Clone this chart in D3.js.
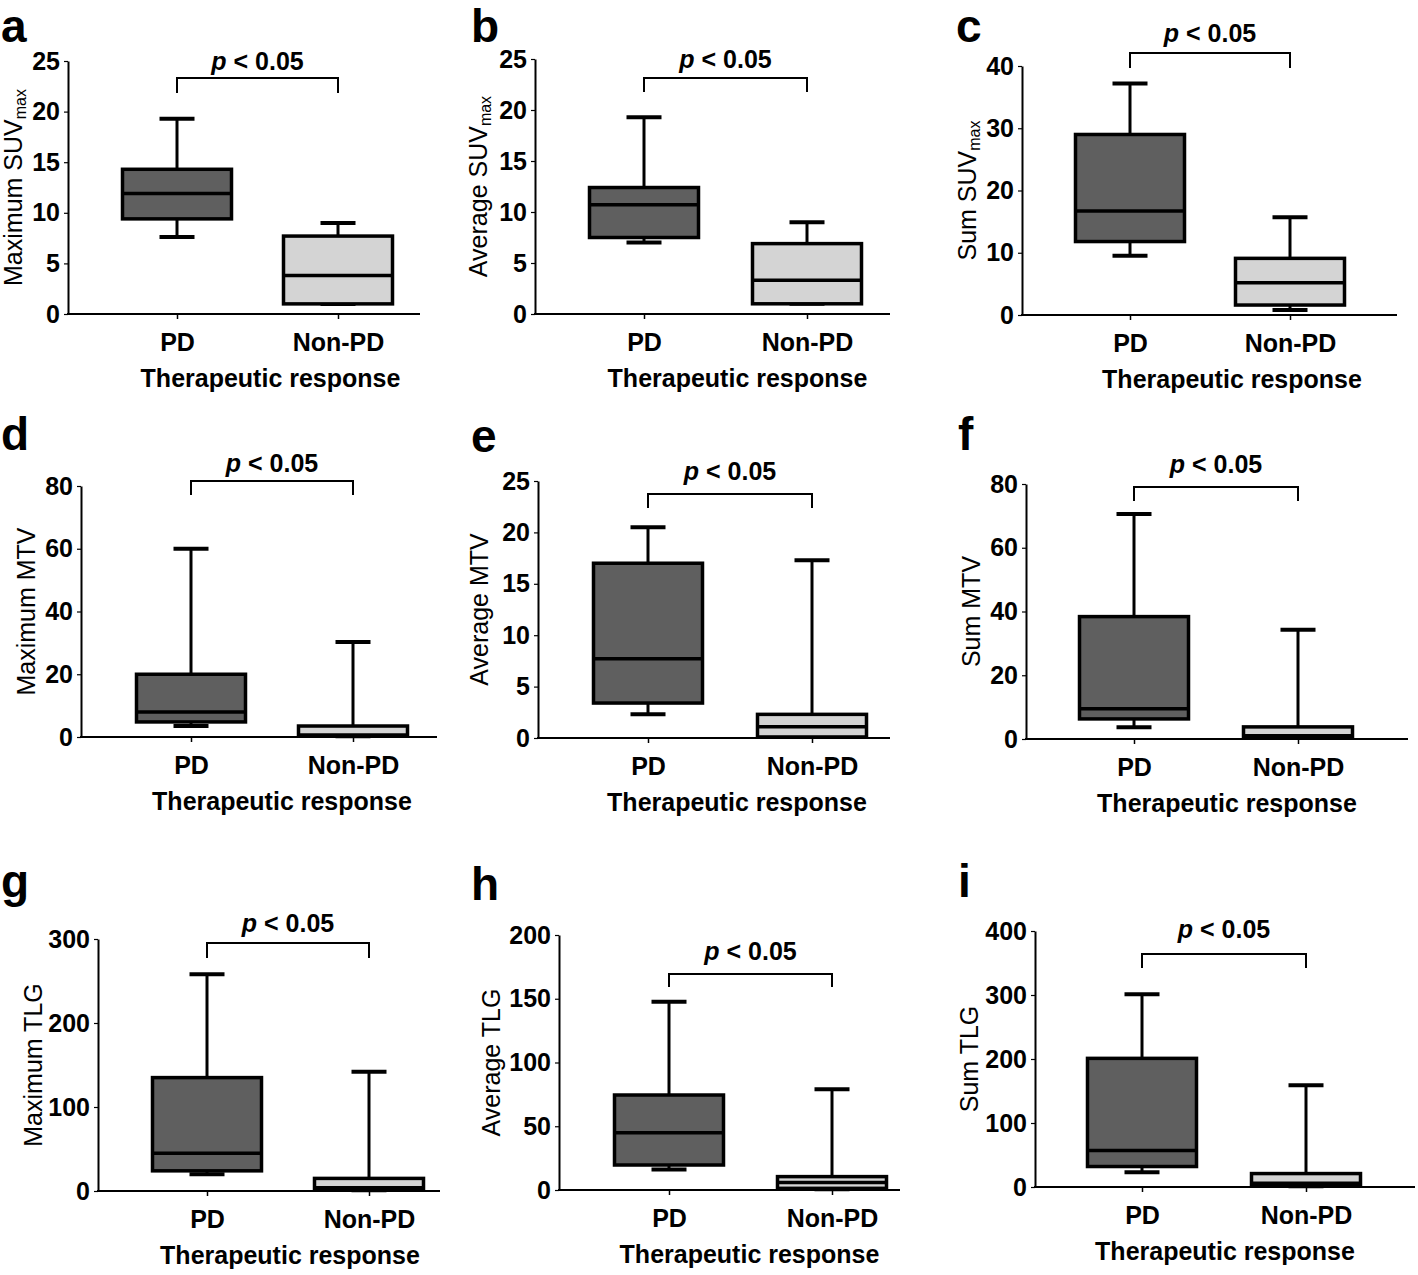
<!DOCTYPE html>
<html>
<head>
<meta charset="utf-8">
<script src="https://cdn.jsdelivr.net/npm/d3@7"></script>
<style>
  html, body { margin: 0; padding: 0; background: #ffffff; }
  svg { display: block; font-family: Arial, "Liberation Sans", Helvetica, sans-serif; }
</style>
</head>
<body>
<svg id="chart" width="1418" height="1275"></svg>
<script>
// ---------------- data ----------------
const panelLetters = ["a", "b", "c", "d", "e", "f", "g", "h", "i"];
const yLabelMain = ["Maximum SUV", "Average SUV", "Sum SUV",
                    "Maximum MTV", "Average MTV", "Sum MTV",
                    "Maximum TLG", "Average TLG", "Sum TLG"];
const yLabelSub = ["max", "max", "max", "", "", "", "", "", ""];
const yTicks = [
  [0, 5, 10, 15, 20, 25],
  [0, 5, 10, 15, 20, 25],
  [0, 10, 20, 30, 40],
  [0, 20, 40, 60, 80],
  [0, 5, 10, 15, 20, 25],
  [0, 20, 40, 60, 80],
  [0, 100, 200, 300],
  [0, 50, 100, 150, 200],
  [0, 100, 200, 300, 400]
];
const categories = ["PD", "Non-PD"];
// [min, Q1, median, Q3, max]
const pdStats = [
  [7.6, 9.4, 11.9, 14.3, 19.3],
  [7.0, 7.5, 10.7, 12.4, 19.3],
  [9.5, 11.8, 16.7, 29.0, 37.2],
  [3.5, 4.8, 8.0, 20.0, 60.0],
  [2.3, 3.4, 7.7, 17.0, 20.5],
  [3.7, 6.3, 9.5, 38.4, 70.6],
  [20, 24, 45, 135, 258],
  [16, 19.6, 45, 74.5, 147.7],
  [23, 32, 57, 201, 301]
];
const nonPdStats = [
  [1.0, 1.0, 3.8, 7.7, 9.0],
  [1.0, 1.0, 3.3, 6.9, 9.0],
  [0.8, 1.6, 5.2, 9.1, 15.7],
  [0.2, 0.3, 0.6, 3.5, 30.3],
  [0.1, 0.1, 1.1, 2.3, 17.3],
  [0.3, 0.5, 1.0, 3.8, 34.3],
  [1, 2, 4, 15, 142],
  [0.5, 1.3, 5.8, 10.5, 79],
  [1, 3, 6, 21, 159]
];
const pText = "< 0.05";
const xTitle = "Therapeutic response";

// ---------------- layout (frame geometry) ----------------
const layout = [
  {ax: 68,   top: 61,  bot: 314,  right: 420,  c0: 177,  c1: 338,  br: 78,  brT: 93,  pY: 70,  lx: 1,   ly: 42,  ylx: 22,  tdx: 13},
  {ax: 535,  top: 59,  bot: 314,  right: 890,  c0: 644,  c1: 807,  br: 78,  brT: 92,  pY: 68,  lx: 471, ly: 42,  ylx: 487, tdx: 12},
  {ax: 1022, top: 66,  bot: 315,  right: 1397, c0: 1130, c1: 1290, br: 53,  brT: 68,  pY: 42,  lx: 956, ly: 42,  ylx: 976, tdx: 22},
  {ax: 81,   top: 486, bot: 737,  right: 437,  c0: 191,  c1: 353,  br: 481, brT: 495, pY: 472, lx: 1,   ly: 450, ylx: 35,  tdx: 10},
  {ax: 538,  top: 481, bot: 738,  right: 890,  c0: 648,  c1: 812,  br: 494, brT: 508, pY: 480, lx: 471, ly: 452, ylx: 488, tdx: 7},
  {ax: 1026, top: 484, bot: 739,  right: 1408, c0: 1134, c1: 1298, br: 487, brT: 501, pY: 473, lx: 958, ly: 450, ylx: 980, tdx: 11},
  {ax: 98,   top: 939, bot: 1191, right: 440,  c0: 207,  c1: 369,  br: 943, brT: 958, pY: 932, lx: 1,   ly: 897, ylx: 42,  tdx: 2},
  {ax: 559,  top: 935, bot: 1190, right: 900,  c0: 669,  c1: 832,  br: 974, brT: 987, pY: 960, lx: 471, ly: 900, ylx: 500, tdx: -1},
  {ax: 1035, top: 931, bot: 1187, right: 1415, c0: 1142, c1: 1306, br: 954, brT: 968, pY: 938, lx: 958, ly: 897, ylx: 978, tdx: 1}
];

const boxFill = {"PD": "#5f5f5f", "Non-PD": "#d4d4d4"};
const boxW = 109, capW = 35;

const svg = d3.select("#chart");

panelLetters.forEach((letter, i) => {
  const L = layout[i];
  const ticks = yTicks[i];
  const y = d3.scaleLinear().domain([0, d3.max(ticks)]).range([L.bot, L.top]);
  const x = d3.scalePoint().domain(categories).range([L.c0, L.c1]);
  const g = svg.append("g");

  // panel letter
  g.append("text").attr("x", L.lx).attr("y", L.ly)
    .attr("font-size", 46).attr("font-weight", "bold").attr("fill", "#000")
    .text(letter);

  // y axis
  const yAxis = d3.axisLeft(y).tickValues(ticks).tickSize(4).tickSizeOuter(0).tickPadding(4)
    .tickFormat(d3.format("d"));
  const ya = g.append("g").attr("transform", `translate(${L.ax},0)`).call(yAxis);
  ya.select(".domain").attr("stroke", "#000").attr("stroke-width", 2);
  ya.selectAll(".tick line").attr("stroke", "#000").attr("stroke-width", 1.2);
  ya.selectAll(".tick text").attr("font-size", 25).attr("font-weight", "bold")
    .attr("font-family", 'Arial, "Liberation Sans", sans-serif').attr("fill", "#000");

  // x axis line
  g.append("line").attr("x1", L.ax - 1).attr("x2", L.right).attr("y1", L.bot).attr("y2", L.bot)
    .attr("stroke", "#000").attr("stroke-width", 2);
  const xAxis = d3.axisBottom(x).tickSize(5).tickPadding(14);
  const xa = g.append("g").attr("transform", `translate(0,${L.bot})`).call(xAxis);
  xa.select(".domain").remove();
  xa.selectAll(".tick line").attr("stroke", "#000").attr("stroke-width", 1.5);
  xa.selectAll(".tick text").attr("font-size", 25).attr("font-weight", "bold")
    .attr("font-family", 'Arial, "Liberation Sans", sans-serif').attr("fill", "#000");

  // x title
  g.append("text").attr("x", (L.c0 + L.c1) / 2 + L.tdx).attr("y", L.bot + 73)
    .attr("text-anchor", "middle").attr("font-size", 25).attr("font-weight", "bold")
    .attr("fill", "#000").text(xTitle);

  // y label
  const yl = g.append("text")
    .attr("transform", `translate(${L.ylx},${(L.top + L.bot) / 2}) rotate(-90)`)
    .attr("text-anchor", "middle").attr("font-size", 25).attr("fill", "#000");
  yl.append("tspan").text(yLabelMain[i]);
  if (yLabelSub[i]) {
    yl.append("tspan").attr("font-size", 16).attr("dy", 4).text(yLabelSub[i]);
  }

  // boxes
  const stats = [pdStats[i], nonPdStats[i]];
  categories.forEach((cat, k) => {
    const [mn, q1, md, q3, mx] = stats[k];
    const cx = x(cat);
    // whiskers
    g.append("line").attr("x1", cx).attr("x2", cx).attr("y1", y(q3)).attr("y2", y(mx))
      .attr("stroke", "#000").attr("stroke-width", 3);
    g.append("line").attr("x1", cx).attr("x2", cx).attr("y1", y(q1)).attr("y2", y(mn))
      .attr("stroke", "#000").attr("stroke-width", 3);
    g.append("line").attr("x1", cx - capW / 2).attr("x2", cx + capW / 2).attr("y1", y(mx)).attr("y2", y(mx))
      .attr("stroke", "#000").attr("stroke-width", 4);
    g.append("line").attr("x1", cx - capW / 2).attr("x2", cx + capW / 2).attr("y1", y(mn)).attr("y2", y(mn))
      .attr("stroke", "#000").attr("stroke-width", 4);
    // box
    g.append("rect").attr("x", cx - boxW / 2).attr("y", y(q3)).attr("width", boxW)
      .attr("height", y(q1) - y(q3)).attr("fill", boxFill[cat])
      .attr("stroke", "#000").attr("stroke-width", 3.5);
    // median
    g.append("line").attr("x1", cx - boxW / 2).attr("x2", cx + boxW / 2).attr("y1", y(md)).attr("y2", y(md))
      .attr("stroke", "#000").attr("stroke-width", 3.5);
  });

  // significance bracket
  g.append("path")
    .attr("d", `M${x(categories[0])},${L.brT}V${L.br}H${x(categories[1])}V${L.brT}`)
    .attr("fill", "none").attr("stroke", "#000").attr("stroke-width", 2);
  const pt = g.append("text").attr("x", (x(categories[0]) + x(categories[1])) / 2).attr("y", L.pY)
    .attr("text-anchor", "middle").attr("font-size", 25).attr("font-weight", "bold").attr("fill", "#000");
  pt.append("tspan").attr("font-style", "italic").text("p");
  pt.append("tspan").text(" " + pText);
});
</script>
</body>
</html>
